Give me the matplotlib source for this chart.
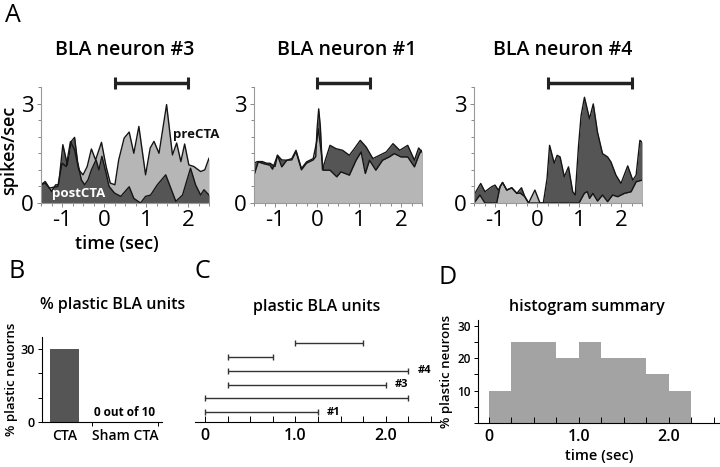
import matplotlib
matplotlib.use('Agg')
import matplotlib.pyplot as plt
from matplotlib.ticker import MultipleLocator, FixedLocator

plt.rcParams['font.family'] = ['Open Sans', 'DejaVu Sans']
plt.rcParams['axes.unicode_minus'] = False
plt.rcParams['font.weight'] = 'medium'

DARK = '#555555'
LIGHT = '#b6b6b6'
HIST = '#a3a3a3'

# ---------------- Panel A data (spikes/sec vs time) ----------------
# neuron #3
a1_t_post = [-1.5, -1.4, -1.25, -1.15, -1.08, -0.98, -0.87, -0.78, -0.70, -0.63, -0.54, -0.46,
             -0.38, -0.3, -0.19, -0.12, -0.05, 0.05, 0.12, 0.25, 0.4, 0.6, 0.71, 0.87, 0.99, 1.11,
             1.27, 1.47, 1.59, 1.71, 1.87, 2.06, 2.18, 2.3, 2.38, 2.5]
a1_post = [0.55, 0.65, 0.35, 0.55, 0.55, 1.76, 1.15, 1.86, 1.98, 1.25, 0.7, 0.55,
           0.7, 1.0, 1.3, 1.0, 1.41, 0.9, 0.5, 0.3, 0.2, 0.49, 0.14, 0.0, 0.2, 0.24,
           0.55, 0.85, 0.45, 0.05, 0.24, 1.05, 0.55, 0.24, 0.4, 0.24]
a1_t_pre = [-1.5, -1.4, -1.3, -1.1, -1.0, -0.9, -0.8, -0.7, -0.6, -0.5, -0.4, -0.3, -0.2,
            -0.06, 0.05, 0.15, 0.26, 0.35, 0.48, 0.6, 0.71, 0.83, 0.99, 1.1, 1.19, 1.31, 1.49,
            1.63, 1.73, 1.83, 1.92, 2.02, 2.14, 2.3, 2.4, 2.5]
a1_pre = [0.55, 0.6, 0.45, 0.5, 1.2, 1.1, 1.85, 1.6, 1.0, 0.85, 1.1, 1.63, 1.3,
          1.83, 1.1, 0.6, 0.55, 1.3, 1.96, 2.14, 1.5, 2.31, 0.85, 1.66, 1.86, 1.5, 2.97,
          1.45, 1.81, 1.25, 1.78, 1.15, 1.1, 0.95, 1.0, 1.35]

# neuron #1
a2_t_pre = [-1.5, -1.4, -1.28, -1.12, -1.06, -0.94, -0.84, -0.72, -0.6, -0.5, -0.37, -0.25,
            -0.09, -0.01, 0.03, 0.09, 0.15, 0.31, 0.47, 0.57, 0.77, 0.93, 1.05, 1.15, 1.25,
            1.4, 1.56, 1.72, 1.84, 2.0, 2.16, 2.32, 2.44, 2.5]
a2_pre = [0.84, 1.24, 1.19, 1.14, 1.02, 1.44, 1.09, 1.29, 1.34, 1.59, 1.04, 1.24,
          1.34, 1.84, 2.24, 1.64, 0.99, 0.99, 0.79, 0.94, 0.84, 1.29, 1.54, 0.89, 1.29,
          0.99, 1.29, 1.39, 1.49, 1.39, 1.39, 1.09, 1.49, 1.59]
a2_t_post = [-1.5, -1.42, -1.3, -1.2, -1.12, -1.0, -0.94, -0.84, -0.72, -0.6, -0.5, -0.37,
             -0.25, -0.09, -0.03, 0.0, 0.04, 0.08, 0.13, 0.2, 0.31, 0.45, 0.61, 0.77, 0.89,
             1.03, 1.17, 1.33, 1.49, 1.65, 1.81, 1.97, 2.16, 2.32, 2.42, 2.5]
a2_post = [1.2, 1.25, 1.25, 1.2, 1.2, 1.1, 1.44, 1.3, 1.29, 1.3, 1.55, 1.0,
           1.2, 1.3, 1.4, 2.2, 2.84, 2.3, 1.0, 1.3, 1.74, 1.64, 1.59, 1.44, 1.64,
           1.89, 1.69, 1.34, 1.44, 1.54, 1.79, 1.59, 1.74, 1.29, 1.66, 1.54]

# neuron #4
a3_t_post = [-1.5, -1.34, -1.24, -1.08, -1.0, -0.92, -0.82, -0.72, -0.6, -0.48, -0.37, -0.29,
             -0.2, 0.15, 0.24, 0.3, 0.41, 0.48, 0.55, 0.65, 0.75, 0.85, 0.91, 0.99, 1.05,
             1.13, 1.25, 1.34, 1.44, 1.56, 1.68, 1.76, 1.88, 2.0, 2.16, 2.28, 2.36, 2.45, 2.5]
a3_post = [0.24, 0.59, 0.34, 0.49, 0.54, 0.39, 0.62, 0.39, 0.46, 0.29, 0.46, 0.19,
           0.0, 0.0, 0.74, 1.74, 1.2, 1.44, 1.39, 0.79, 1.09, 0.34, 0.24, 1.74, 2.64,
           3.19, 2.54, 2.99, 2.14, 1.49, 1.39, 1.24, 0.84, 0.59, 1.12, 0.69, 0.84, 1.89, 1.84]
a3_t_pre = [-1.5, -1.36, -1.24, -0.96, -0.88, -0.82, -0.72, -0.6, -0.48, -0.4, -0.29, -0.2,
            -0.05, 0.07, 1.0, 1.13, 1.2, 1.25, 1.33, 1.44, 1.56, 1.68, 1.8, 1.92, 2.08,
            2.24, 2.36, 2.5]
a3_pre = [0.0, 0.24, 0.0, 0.0, 0.5, 0.62, 0.39, 0.46, 0.29, 0.3, 0.19, 0.0,
          0.39, 0.0, 0.0, 0.3, 0.34, 0.14, 0.29, 0.06, 0.24, 0.04, 0.24, 0.19, 0.29,
          0.34, 0.64, 0.69]

a_titles = ['BLA neuron #3', 'BLA neuron #1', 'BLA neuron #4']
a_bars = [(0.25, 2.0), (0.0, 1.25), (0.25, 2.25)]

# ---------------- Panel B ----------------
b_cats = ['CTA', 'Sham CTA']
b_vals = [30, 0]

# ---------------- Panel C ----------------
c_start = [0.0, 0.0, 0.25, 0.25, 0.25, 1.0]
c_end = [1.25, 2.25, 2.0, 2.25, 0.75, 1.75]
c_labels = ['#1', '', '#3', '#4', '', '']

# ---------------- Panel D ----------------
d_left = [0.0, 0.25, 0.5, 0.75, 1.0, 1.25, 1.5, 1.75, 2.0]
d_vals = [10, 25, 25, 20, 25, 20, 20, 15, 10]

W, H = 720, 467
fig = plt.figure(figsize=(7.2, 4.67), dpi=100)


def rect(l, t, r, b):
    return [l / W, 1 - b / H, (r - l) / W, (b - t) / H]


def fx(px):
    return px / W


def fy(py):
    return 1 - py / H


def psth(ax, t_pre, pre, t_post, post, pre_on_top, bar):
    if pre_on_top:
        layers = [(t_post, post, DARK), (t_pre, pre, LIGHT)]
    else:
        layers = [(t_pre, pre, LIGHT), (t_post, post, DARK)]
    for t, v, c in layers:
        ax.fill_between(t, v, 0, color=c, lw=0)
        ax.plot(t, v, color='#151515', lw=1.0)
    ax.set_xlim(-1.5, 2.5)
    ax.set_ylim(0, 3.5)
    for s in ['top', 'right']:
        ax.spines[s].set_visible(False)
    for s in ['left', 'bottom']:
        ax.spines[s].set_color('#9a9a9a')
        ax.spines[s].set_linewidth(0.8)
    ax.set_xticks([-1, 0, 1, 2])
    ax.set_yticks([0, 3])
    ax.xaxis.set_minor_locator(MultipleLocator(0.25))
    ax.yaxis.set_minor_locator(MultipleLocator(0.5))
    ax.tick_params(which='both', color='#888888', labelsize=16, length=3, width=0.7, pad=2)
    ax.tick_params(which='minor', length=2)
    ax.plot(bar, [3.62, 3.62], color='#222222', lw=2.5, marker='|', ms=9, mew=2.2,
            clip_on=False, solid_capstyle='butt')


axA = []
for i, left in enumerate([41, 254, 474]):
    ax = fig.add_axes(rect(left, 87, left + 168, 203))
    axA.append(ax)

psth(axA[0], a1_t_pre, a1_pre, a1_t_post, a1_post, False, a_bars[0])
psth(axA[1], a2_t_pre, a2_pre, a2_t_post, a2_post, True, a_bars[1])
psth(axA[2], a3_t_pre, a3_pre, a3_t_post, a3_post, True, a_bars[2])

for x, title in zip([125, 347, 563], a_titles):
    fig.text(fx(x), fy(50), title, ha='center', va='center', fontsize=14, fontweight='semibold')

axA[0].text(2.2, 2.08, 'preCTA', ha='center', va='center', fontsize=9.5, fontweight='bold',
            color='#111111')
axA[0].text(-0.6, 0.28, 'postCTA', ha='center', va='center', fontsize=9.5, fontweight='bold',
            color='white')
fig.text(fx(9), fy(150), 'spikes/sec', rotation=90, ha='center', va='center', fontsize=13,
         fontweight='semibold')
fig.text(fx(117), fy(244), 'time (sec)', ha='center', va='center', fontsize=13,
         fontweight='semibold')

# panel letters
fig.text(fx(13), fy(15), 'A', ha='center', va='center', fontsize=18)
fig.text(fx(17), fy(272), 'B', ha='center', va='center', fontsize=18)
fig.text(fx(202), fy(272), 'C', ha='center', va='center', fontsize=18)
fig.text(fx(448), fy(277), 'D', ha='center', va='center', fontsize=18)

# ---------------- B ----------------
axB = fig.add_axes(rect(42, 337, 162, 422))
axB.bar([0, 1], b_vals, width=0.48, color='#555555')
axB.set_xlim(-0.38, 1.62)
axB.set_ylim(0, 35)
for s in ['top', 'right']:
    axB.spines[s].set_visible(False)
for s in ['left', 'bottom']:
    axB.spines[s].set_linewidth(0.8)
axB.set_yticks([0, 10, 20, 30])
axB.set_yticklabels(['0', '', '', '30'])
axB.set_xticks([0, 1])
axB.set_xticklabels(b_cats, fontweight='semibold')
axB.xaxis.set_minor_locator(FixedLocator([0.45, 1.55]))
axB.tick_params(axis='x', which='major', length=0, labelsize=10, pad=5)
axB.tick_params(axis='x', which='minor', length=3, width=0.7)
axB.tick_params(axis='y', length=3, width=0.7, labelsize=9, pad=2)
for lab in axB.get_yticklabels():
    lab.set_fontweight('semibold')
axB.text(1, 3.8, '0 out of 10', ha='center', va='center', fontsize=8.5, fontweight='bold')
axB.set_ylabel('% plastic neuorns', fontsize=9.5, labelpad=2, fontweight='semibold')
fig.text(fx(113), fy(305), '% plastic BLA units', ha='center', va='center', fontsize=11.5,
         fontweight='semibold')

# ---------------- C ----------------
axC = fig.add_axes(rect(195, 335, 440, 422))
rows = list(range(1, len(c_start) + 1))
centers = [(s + e) / 2 for s, e in zip(c_start, c_end)]
halfs = [(e - s) / 2 for s, e in zip(c_start, c_end)]
axC.errorbar(centers, rows, xerr=halfs, fmt='none', ecolor='#333333', elinewidth=1.0,
             capsize=2.4, capthick=1.0)
for e, r, lab in zip(c_end, rows, c_labels):
    if lab:
        axC.text(e + 0.1, r, lab, ha='left', va='center', fontsize=8, fontweight='bold')
axC.set_xlim(-0.11, 2.6)
axC.set_ylim(0.275, 6.6)
for s in ['top', 'right', 'left']:
    axC.spines[s].set_visible(False)
axC.spines['bottom'].set_linewidth(0.8)
axC.set_yticks([])
axC.set_xticks([0, 1, 2])
axC.set_xticklabels(['0', '1.0', '2.0'], fontweight='semibold')
axC.xaxis.set_minor_locator(MultipleLocator(0.25))
axC.tick_params(axis='x', which='both', direction='in', length=4, width=0.7, labelsize=11.5, pad=4)
fig.text(fx(317), fy(307), 'plastic BLA units', ha='center', va='center', fontsize=11.5,
         fontweight='semibold')

# ---------------- D ----------------
axD = fig.add_axes(rect(478, 320, 720, 423))
axD.bar(d_left, d_vals, width=0.25, align='edge', color=HIST, lw=0)
axD.set_xlim(-0.12, 2.57)
axD.set_ylim(0, 31.7)
for s in ['top', 'right']:
    axD.spines[s].set_visible(False)
for s in ['left', 'bottom']:
    axD.spines[s].set_linewidth(0.8)
axD.set_yticks([0, 10, 20, 30])
axD.set_yticklabels(['', '10', '20', '30'])
for lab in axD.get_yticklabels():
    lab.set_fontweight('semibold')
axD.yaxis.set_minor_locator(MultipleLocator(5))
axD.tick_params(axis='y', which='both', length=3, width=0.7, labelsize=8.5, pad=2)
axD.set_xticks([0, 1, 2])
axD.set_xticklabels(['0', '1.0', '2.0'], fontweight='semibold')
axD.xaxis.set_minor_locator(MultipleLocator(0.25))
axD.tick_params(axis='x', which='both', direction='in', length=4, width=0.7, labelsize=11.5, pad=4)
axD.set_ylabel('% plastic neurons', fontsize=9.5, labelpad=3, fontweight='semibold')
axD.set_xlabel('time (sec)', fontsize=10.5, labelpad=3, fontweight='semibold')
fig.text(fx(587), fy(307), 'histogram summary', ha='center', va='center', fontsize=11.5,
         fontweight='semibold')

fig.savefig('out.png', dpi=100)
